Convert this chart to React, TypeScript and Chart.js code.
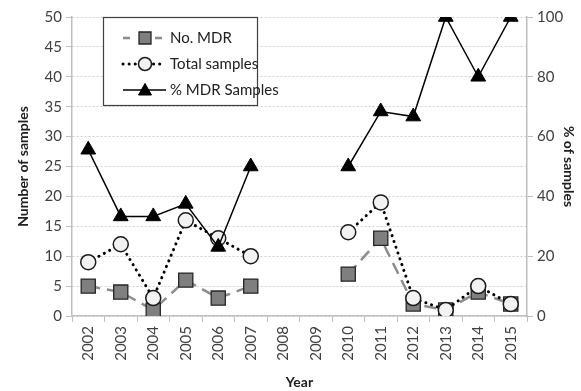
import React, { useEffect, useRef } from "react";
import { Chart, registerables } from "chart.js";
Chart.register(...registerables);

const years = ["2002", "2003", "2004", "2005", "2006", "2007", "2008", "2009", "2010", "2011", "2012", "2013", "2014", "2015"];
const noMDR = [5, 4, 1, 6, 3, 5, null, null, 7, 13, 2, 1, 4, 2];
const totalSamples = [9, 12, 3, 16, 13, 10, null, null, 14, 19, 3, 1, 5, 2];
const pctMDR = [55.6, 33.3, 33.3, 37.5, 23.1, 50, null, null, 50, 68.4, 66.7, 100, 80, 100];
const seriesNames = ["No. MDR", "Total samples", "% MDR Samples"];
const leftTitle = "Number of samples";
const rightTitle = "% of samples";
const xTitle = "Year";

const FONT = "Lato, 'Open Sans', 'DejaVu Sans', sans-serif";
const AXIS = "#bfbfbf";
const TXT = "#404040";

function marker(ctx: CanvasRenderingContext2D, style: string, cx: number, cy: number) {
  ctx.beginPath();
  if (style === "rect") {
    ctx.rect(cx - 6, cy - 6, 12, 12);
  } else if (style === "circle") {
    ctx.arc(cx, cy, 6.5, 0, Math.PI * 2);
  } else {
    ctx.moveTo(cx, cy - 6.5);
    ctx.lineTo(cx + 6.5, cy + 5);
    ctx.lineTo(cx - 6.5, cy + 5);
    ctx.closePath();
  }
  ctx.fill();
  ctx.stroke();
}

const legendPlugin = {
  id: "boxLegend",
  afterDraw(chart: any) {
    const ctx = chart.ctx;
    const bx = 103, by = 17, bw = 154, bh = 88;
    ctx.save();
    ctx.fillStyle = "#ffffff";
    ctx.fillRect(bx, by, bw, bh);
    ctx.strokeStyle = "#404040";
    ctx.lineWidth = 1.2;
    ctx.strokeRect(bx + 0.5, by + 0.5, bw, bh);
    const rows = [38, 64, 90];
    chart.data.datasets.forEach((ds: any, i: number) => {
      const y = rows[i];
      const x0 = 123, x1 = 166, cx = 145;
      ctx.save();
      ctx.strokeStyle = ds.borderColor;
      ctx.lineWidth = ds.borderWidth;
      ctx.lineCap = ds.borderCapStyle || "butt";
      if (i === 0) ctx.setLineDash([7, 9]);
      else ctx.setLineDash(ds.borderDash || []);
      ctx.beginPath();
      ctx.moveTo(x0, y);
      ctx.lineTo(i === 1 ? x1 - 2 : x1, y);
      ctx.stroke();
      ctx.restore();
      ctx.save();
      ctx.fillStyle = ds.pointBackgroundColor;
      ctx.strokeStyle = ds.pointBorderColor;
      ctx.lineWidth = ds.pointBorderWidth;
      marker(ctx, ds.pointStyle, cx, y);
      ctx.restore();
      ctx.fillStyle = "#202020";
      ctx.font = `15px ${FONT}`;
      ctx.textBaseline = "middle";
      ctx.textAlign = "left";
      ctx.fillText(seriesNames[i], x1 + 4, y);
    });
    ctx.restore();
  },
};

export default function App() {
  const ref = useRef<HTMLCanvasElement>(null);
  useEffect(() => {
    document.body.style.margin = "0";
    const ctx = ref.current!.getContext("2d")!;
    const chart = new Chart(ctx, {
      type: "line",
      data: {
        labels: years,
        datasets: [
          {
            label: seriesNames[0],
            data: noMDR,
            yAxisID: "y",
            borderColor: "#8c8c8c",
            borderWidth: 2.5,
            borderDash: [12, 7],
            pointStyle: "rect",
            pointRadius: 10,
            pointBackgroundColor: "#7f7f7f",
            pointBorderColor: "#262626",
            pointBorderWidth: 1.3,
            spanGaps: false,
            order: 3,
          },
          {
            label: seriesNames[1],
            data: totalSamples,
            yAxisID: "y",
            borderColor: "#000000",
            borderWidth: 3,
            borderDash: [0.1, 6],
            borderCapStyle: "round",
            pointStyle: "circle",
            pointRadius: 7.5,
            pointBackgroundColor: "#f2f2f2",
            pointBorderColor: "#1a1a1a",
            pointBorderWidth: 1.5,
            spanGaps: false,
            order: 2,
          },
          {
            label: seriesNames[2],
            data: pctMDR,
            yAxisID: "y2",
            borderColor: "#000000",
            borderWidth: 1.5,
            pointStyle: "triangle",
            pointRadius: 8.5,
            pointBackgroundColor: "#000000",
            pointBorderColor: "#000000",
            pointBorderWidth: 1,
            spanGaps: false,
            order: 1,
          },
        ] as any,
      },
      options: {
        responsive: false,
        animation: false,
        layout: { padding: { top: 17, left: 0, right: 0, bottom: 0 } },
        plugins: { legend: { display: false }, tooltip: { enabled: false } },
        elements: { line: { tension: 0 } },
        scales: {
          x: {
            offset: true,
            grid: { offset: true, drawOnChartArea: false, drawTicks: true, tickLength: 6, color: AXIS },
            border: { color: AXIS, width: 1.5 },
            ticks: { minRotation: 90, maxRotation: 90, autoSkip: false, color: TXT, font: { family: FONT, size: 15 }, padding: 4 },
            title: { display: true, text: xTitle, color: "#202020", font: { family: FONT, size: 14, weight: "bold" }, padding: { top: 4, bottom: 0 } },
            afterFit: (s: any) => { s.height = 75; },
          },
          y: {
            position: "left",
            min: 0,
            max: 50,
            ticks: { stepSize: 5, color: TXT, font: { family: FONT, size: 15 }, padding: 4 },
            grid: { color: "#d0d0d0", lineWidth: 1, drawTicks: true, tickLength: 6, tickColor: AXIS },
            border: { color: AXIS, width: 1.5, dash: [2, 2] },
            title: { display: true, text: leftTitle, color: "#202020", font: { family: FONT, size: 14, weight: "bold" }, padding: { top: 15, bottom: 0 } },
            afterFit: (s: any) => { s.width = 72; },
          },
          y2: {
            position: "right",
            min: 0,
            max: 100,
            ticks: { stepSize: 20, color: TXT, font: { family: FONT, size: 15 }, padding: 4 },
            grid: { drawOnChartArea: false, drawTicks: true, tickLength: 6, color: AXIS },
            border: { color: AXIS, width: 1.5 },
            title: { display: true, text: rightTitle, color: "#202020", font: { family: FONT, size: 14, weight: "bold" }, padding: { top: 4, bottom: 0 } },
            afterFit: (s: any) => { s.width = 54; },
          },
        },
      } as any,
      plugins: [legendPlugin],
    });
    return () => chart.destroy();
  }, []);
  return (
    <div style={{ width: 581, height: 391, background: "#fff" }}>
      <canvas ref={ref} width={581} height={391} style={{ display: "block" }} />
    </div>
  );
}
